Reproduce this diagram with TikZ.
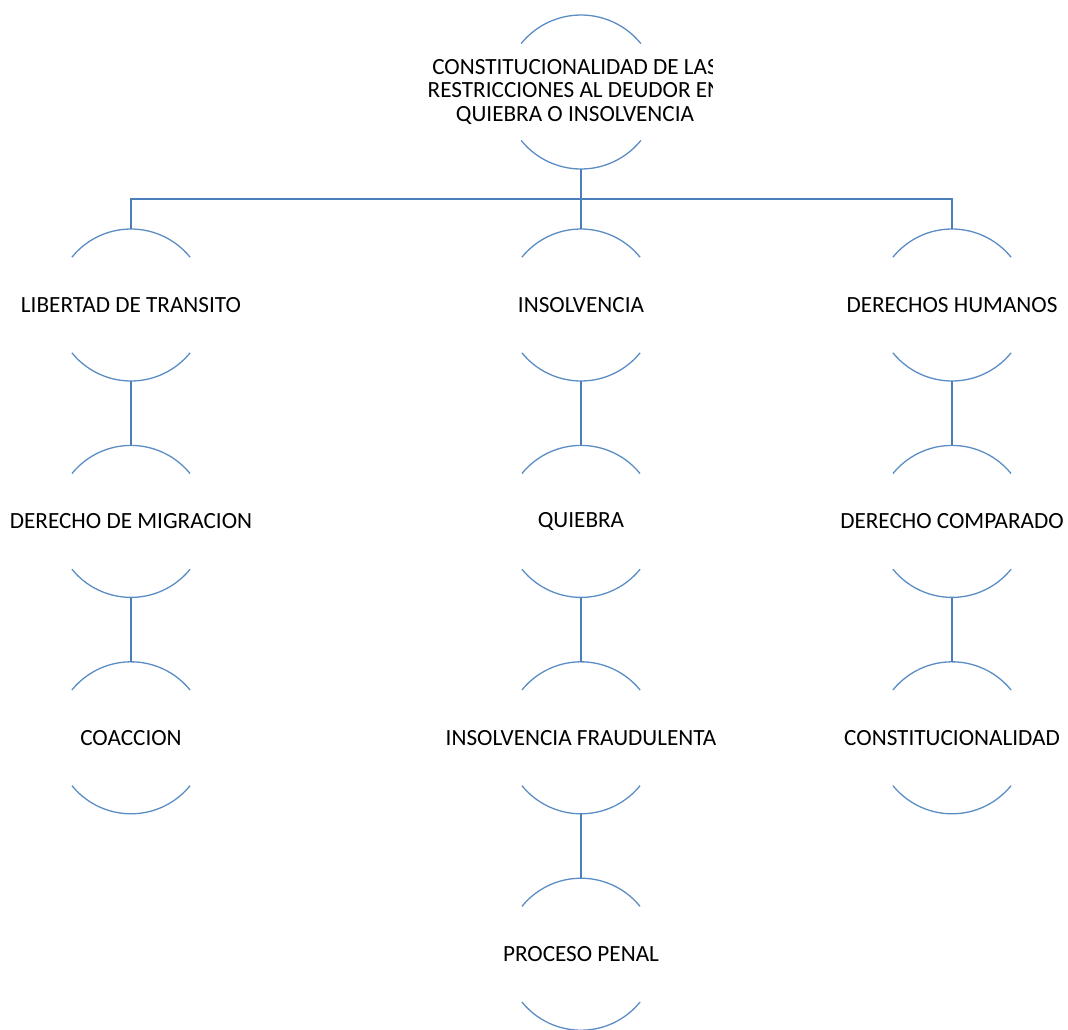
\documentclass[tikz,border=0pt]{standalone}
\usepackage{fontspec}
\setmainfont{Carlito}
\usetikzlibrary{positioning}

\definecolor{azularco}{RGB}{91,141,196}
\definecolor{azullinea}{RGB}{74,126,187}

\tikzset{
  concepto/.style={minimum height=152pt, inner sep=0pt, align=center,
    font=\fontsize{23.2}{23.5}\selectfont},
  arco/.style={draw=azularco, line width=1.3pt},
  enlace/.style={draw=azullinea, line width=1.8pt}
}
% arcos de arriba y de abajo alrededor de un nodo
\newcommand{\arcos}[2]{%
  \draw[arco] (#1.center) ++(39:#2) arc[start angle=39,end angle=141,radius=#2];
  \draw[arco] (#1.center) ++(219:#2) arc[start angle=219,end angle=321,radius=#2];
}

\begin{document}
\begin{tikzpicture}[x=1pt,y=1pt,node distance=64pt,on grid=false]
\useasboundingbox (0,0) rectangle (1068,-1029);

% Place nodes
\begin{scope}
  \clip (0,0) rectangle (712,-200);
  \node [concepto,minimum height=154pt] (raiz) at (581,-92) {};
  \node [font=\fontsize{23.2}{23.5}\selectfont,align=center] (raiztxt) at (575,-92)
    {CONSTITUCIONALIDAD DE LAS\\RESTRICCIONES AL DEUDOR EN\\QUIEBRA O INSOLVENCIA};
\end{scope}

\node [concepto] (libertad) at (131,-305) {LIBERTAD DE TRANSITO};
\node [concepto,below=of libertad] (migracion) {DERECHO DE MIGRACION};
\node [concepto,below=of migracion] (coaccion) {COACCION};

\node [concepto] (insolv) at (581,-305) {INSOLVENCIA};
\node [concepto,below=of insolv] (quiebra) {QUIEBRA};
\node [concepto,below=of quiebra] (fraude) {INSOLVENCIA FRAUDULENTA};
\node [concepto,below=of fraude] (penal) {PROCESO PENAL};

\node [concepto] (humanos) at (952,-305) {DERECHOS HUMANOS};
\node [concepto,below=of humanos] (comparado) {DERECHO COMPARADO};
\node [concepto,below=of comparado] (constit) {CONSTITUCIONALIDAD};

% Arcos
\arcos{raiz}{77}
\foreach \n in {libertad,migracion,coaccion,insolv,quiebra,fraude,penal,humanos,comparado,constit}
  {\arcos{\n}{76}}

% Enlaces
\path (raiz.south) ++(0,-30) coordinate (bus);
\draw [enlace] (raiz.south) -- (insolv.north);
\draw [enlace] (libertad.north) |- (bus) -| (humanos.north);
\draw [enlace] (libertad.south) -- (migracion.north);
\draw [enlace] (migracion.south) -- (coaccion.north);
\draw [enlace] (insolv.south) -- (quiebra.north);
\draw [enlace] (quiebra.south) -- (fraude.north);
\draw [enlace] (fraude.south) -- (penal.north);
\draw [enlace] (humanos.south) -- (comparado.north);
\draw [enlace] (comparado.south) -- (constit.north);

\end{tikzpicture}
\end{document}
